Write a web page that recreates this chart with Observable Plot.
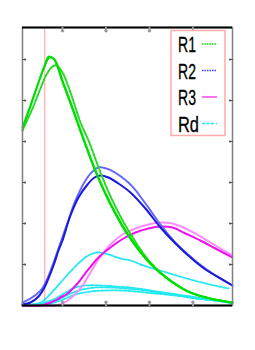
<!DOCTYPE html>
<html>
<head>
<meta charset="utf-8">
<script src="https://cdn.jsdelivr.net/npm/d3@7"></script>
<script src="https://cdn.jsdelivr.net/npm/@observablehq/plot@0.6"></script>
<style>
  html, body { margin: 0; padding: 0; background: #fff; }
  #wrap { position: relative; width: 255px; height: 350px; }
  #legend { position: absolute; left: 0; top: 0; }
</style>
</head>
<body>
<div id="wrap"></div>
<script>
// ---- axes ----
const xDomain = [0.08, 4.91];
const yDomain = [0, 6.78];
const xTicks = [1, 2, 3, 4];
const yTicks = [1, 2, 3, 4, 5, 6];
const markerX = [0.593];

// ---- series (R1 green) ----
const g1X = [0.08,0.264,0.448,0.586,0.701,0.816,1.023,1.253,1.483,1.805,2.103,2.494,3.023,3.483,3.943,4.402,4.908];
const g1Y = [4.341,4.878,5.439,5.829,6.049,6.0,5.415,4.756,4.073,3.171,2.488,1.756,1.024,0.61,0.317,0.171,0.073];
const g2X = [0.08,0.264,0.448,0.586,0.678,0.793,1.0,1.23,1.46,1.78,2.08,2.47,3.0,3.46,3.92,4.40,4.908];
const g2Y = [4.30,4.86,5.44,5.85,6.073,6.02,5.44,4.78,4.10,3.20,2.50,1.76,1.03,0.61,0.32,0.17,0.07];
const gdX = [0.08,0.31,0.494,0.632,0.77,0.862,1.0,1.184,1.414,1.598,1.874,2.149,2.517,3.023,3.483,3.943,4.402,4.908];
const gdY = [4.268,4.805,5.293,5.634,5.829,5.854,5.683,5.195,4.463,4.024,3.244,2.561,1.829,1.049,0.61,0.317,0.171,0.073];

// ---- R2 blue ----
const b1X = [0.08,0.264,0.448,0.586,0.678,0.793,0.908,1.0,1.184,1.368,1.575,1.736,1.874,2.057,2.287,2.563,2.908,3.253,3.598,3.943,4.287,4.632,4.908];
const b1Y = [0.024,0.073,0.22,0.439,0.659,0.976,1.341,1.585,2.195,2.634,2.951,3.122,3.171,3.122,2.976,2.756,2.366,1.902,1.512,1.171,0.878,0.659,0.488];
const b2X = [0.08,0.264,0.494,0.632,0.77,0.908,1.092,1.299,1.529,1.69,1.828,2.011,2.241,2.563,2.908,3.253,3.598,3.943,4.287,4.632,4.908];
const b2Y = [0.073,0.171,0.366,0.61,0.976,1.39,1.951,2.561,3.049,3.268,3.366,3.341,3.22,2.951,2.488,1.976,1.537,1.195,0.902,0.659,0.488];

// ---- R3 magenta ----
const m1X = [0.08,0.494,0.724,0.954,1.115,1.345,1.575,1.828,2.103,2.402,2.678,2.977,3.253,3.529,3.828,4.172,4.517,4.908];
const m1Y = [0,0,0.073,0.195,0.293,0.537,0.854,1.171,1.415,1.634,1.78,1.878,1.927,1.902,1.756,1.585,1.39,1.171];
const m2X = [0.08,0.839,1.0,1.184,1.414,1.644,1.874,2.103,2.379,2.678,2.977,3.253,3.529,3.828,4.172,4.517,4.908];
const m2Y = [0,0,0.049,0.171,0.415,0.805,1.195,1.488,1.732,1.878,1.976,2.024,2.0,1.878,1.683,1.463,1.22];

// ---- Rd cyan ----
const cAX = [0.08,0.494,0.793,1.0,1.184,1.414,1.598,1.805,2.057,2.333,2.563,2.862,3.322,3.782,4.287,4.816];
const cAY = [0,0.073,0.366,0.61,0.829,1.073,1.22,1.293,1.244,1.146,1.098,0.976,0.829,0.683,0.537,0.415];
const cBX = [0.08,0.494,0.839,1.069,1.299,1.529,1.874,2.218,2.563,3.023,3.483,3.943,4.402,4.908];
const cBY = [0,0.049,0.171,0.317,0.439,0.488,0.488,0.463,0.439,0.366,0.293,0.22,0.146,0.073];
const cCX = [0.08,0.609,0.954,1.299,1.644,1.989,2.333,2.678,3.138,3.598,4.057,4.517,4.908];
const cCY = [0,0.024,0.122,0.268,0.341,0.366,0.366,0.341,0.293,0.244,0.171,0.122,0.049];
const cDX = [0.08,0.54,0.908,1.184,1.46,1.759,2.103,2.448,2.908,3.368,3.828,4.287,4.908];
const cDY = [0,0.024,0.146,0.293,0.39,0.439,0.439,0.415,0.366,0.293,0.22,0.146,0.073];

// ---- legend ----
const legendLabels = ["R1", "R2", "R3", "Rd"];
const legendColors = ["#00dd00", "#3a3aff", "#ff44ff", "#22e8f0"];
const legendDash = ["1.5,1", "1.5,1", null, "3,1.5"];

const rows = (xs, ys) => xs.map((x, i) => ({x, y: ys[i]}));
const line = (xs, ys, o) => Plot.line(rows(xs, ys), {x: "x", y: "y", curve: "catmull-rom", ...o});

const chart = Plot.plot({
  width: 255,
  height: 350,
  marginLeft: 22,
  marginRight: 23,
  marginTop: 27,
  marginBottom: 45,
  x: {domain: xDomain, axis: null},
  y: {domain: yDomain, axis: null},
  style: {background: "#fff"},
  marks: [
    Plot.ruleX(markerX, {stroke: "#ff9a9a", strokeWidth: 1}),
    // cyan
    line(cCX, cCY, {stroke: "#22e8f0", strokeWidth: 1.8, strokeDasharray: "3,1.5"}),
    line(cDX, cDY, {stroke: "#22e8f0", strokeWidth: 1.8, strokeDasharray: "3,1.5"}),
    line(cBX, cBY, {stroke: "#22e8f0", strokeWidth: 1.8, strokeDasharray: "3,1.5"}),
    line(cAX, cAY, {stroke: "#22e8f0", strokeWidth: 1.8, strokeDasharray: "3,1.5"}),
    // magenta
    line(m2X, m2Y, {stroke: "#ff8cff", strokeWidth: 2}),
    line(m1X, m1Y, {stroke: "#ee11ee", strokeWidth: 2}),
    // blue
    line(b2X, b2Y, {stroke: "#6464ff", strokeWidth: 2, strokeDasharray: "1.2,1.2"}),
    line(b1X, b1Y, {stroke: "#1a1ad8", strokeWidth: 2}),
    // green
    line(gdX, gdY, {stroke: "#22dd22", strokeWidth: 2, strokeDasharray: "3,1.5"}),
    line(g2X, g2Y, {stroke: "#00dd00", strokeWidth: 1.6}),
    line(g1X, g1Y, {stroke: "#00dd00", strokeWidth: 2}),
    // frame
    Plot.frame({stroke: "#808080", strokeWidth: 1.5}),
    Plot.ruleY([yDomain[0]], {stroke: "#000", strokeWidth: 2}),
    Plot.ruleY([yDomain[1]], {stroke: "#000", strokeWidth: 2}),
    // inward ticks
    Plot.vector(xTicks, {x: d => d, frameAnchor: "bottom", rotate: 0, anchor: "start", length: 4, stroke: "#999", strokeWidth: 2}),
    Plot.vector(xTicks, {x: d => d, frameAnchor: "top", rotate: 180, anchor: "start", length: 4, stroke: "#999", strokeWidth: 2}),
    Plot.vector(yTicks, {y: d => d, frameAnchor: "left", rotate: 90, anchor: "start", length: 3, stroke: "#555", strokeWidth: 1.2}),
    Plot.vector(yTicks, {y: d => d, frameAnchor: "right", rotate: -90, anchor: "start", length: 3, stroke: "#555", strokeWidth: 1.2})
  ]
});

const wrap = document.getElementById("wrap");
wrap.appendChild(chart);

// legend overlay
const ns = "http://www.w3.org/2000/svg";
const lg = document.createElementNS(ns, "svg");
lg.setAttribute("id", "legend");
lg.setAttribute("width", 255);
lg.setAttribute("height", 350);
const box = document.createElementNS(ns, "rect");
box.setAttribute("x", 171); box.setAttribute("y", 30.5);
box.setAttribute("width", 54); box.setAttribute("height", 105);
box.setAttribute("fill", "#fff"); box.setAttribute("stroke", "#ffaaaa"); box.setAttribute("stroke-width", 1.5);
lg.appendChild(box);
const widths = [18, 18, 18, 21];
legendLabels.forEach((lab, i) => {
  const base = 52 + i * 26.5;
  const t = document.createElementNS(ns, "text");
  t.setAttribute("x", 178); t.setAttribute("y", base);
  t.setAttribute("font-family", "Liberation Sans, Arial, sans-serif");
  t.setAttribute("font-size", 22);
  t.setAttribute("textLength", widths[i]);
  t.setAttribute("lengthAdjust", "spacingAndGlyphs");
  t.setAttribute("fill", "#000");
  t.setAttribute("stroke", "#000");
  t.setAttribute("stroke-width", 0.3);
  t.textContent = lab;
  lg.appendChild(t);
  const l = document.createElementNS(ns, "line");
  l.setAttribute("x1", 202); l.setAttribute("x2", 217);
  l.setAttribute("y1", base - 8); l.setAttribute("y2", base - 8);
  l.setAttribute("stroke", legendColors[i]); l.setAttribute("stroke-width", 1.5);
  if (legendDash[i]) l.setAttribute("stroke-dasharray", legendDash[i]);
  lg.appendChild(l);
});
wrap.appendChild(lg);
</script>
</body>
</html>
